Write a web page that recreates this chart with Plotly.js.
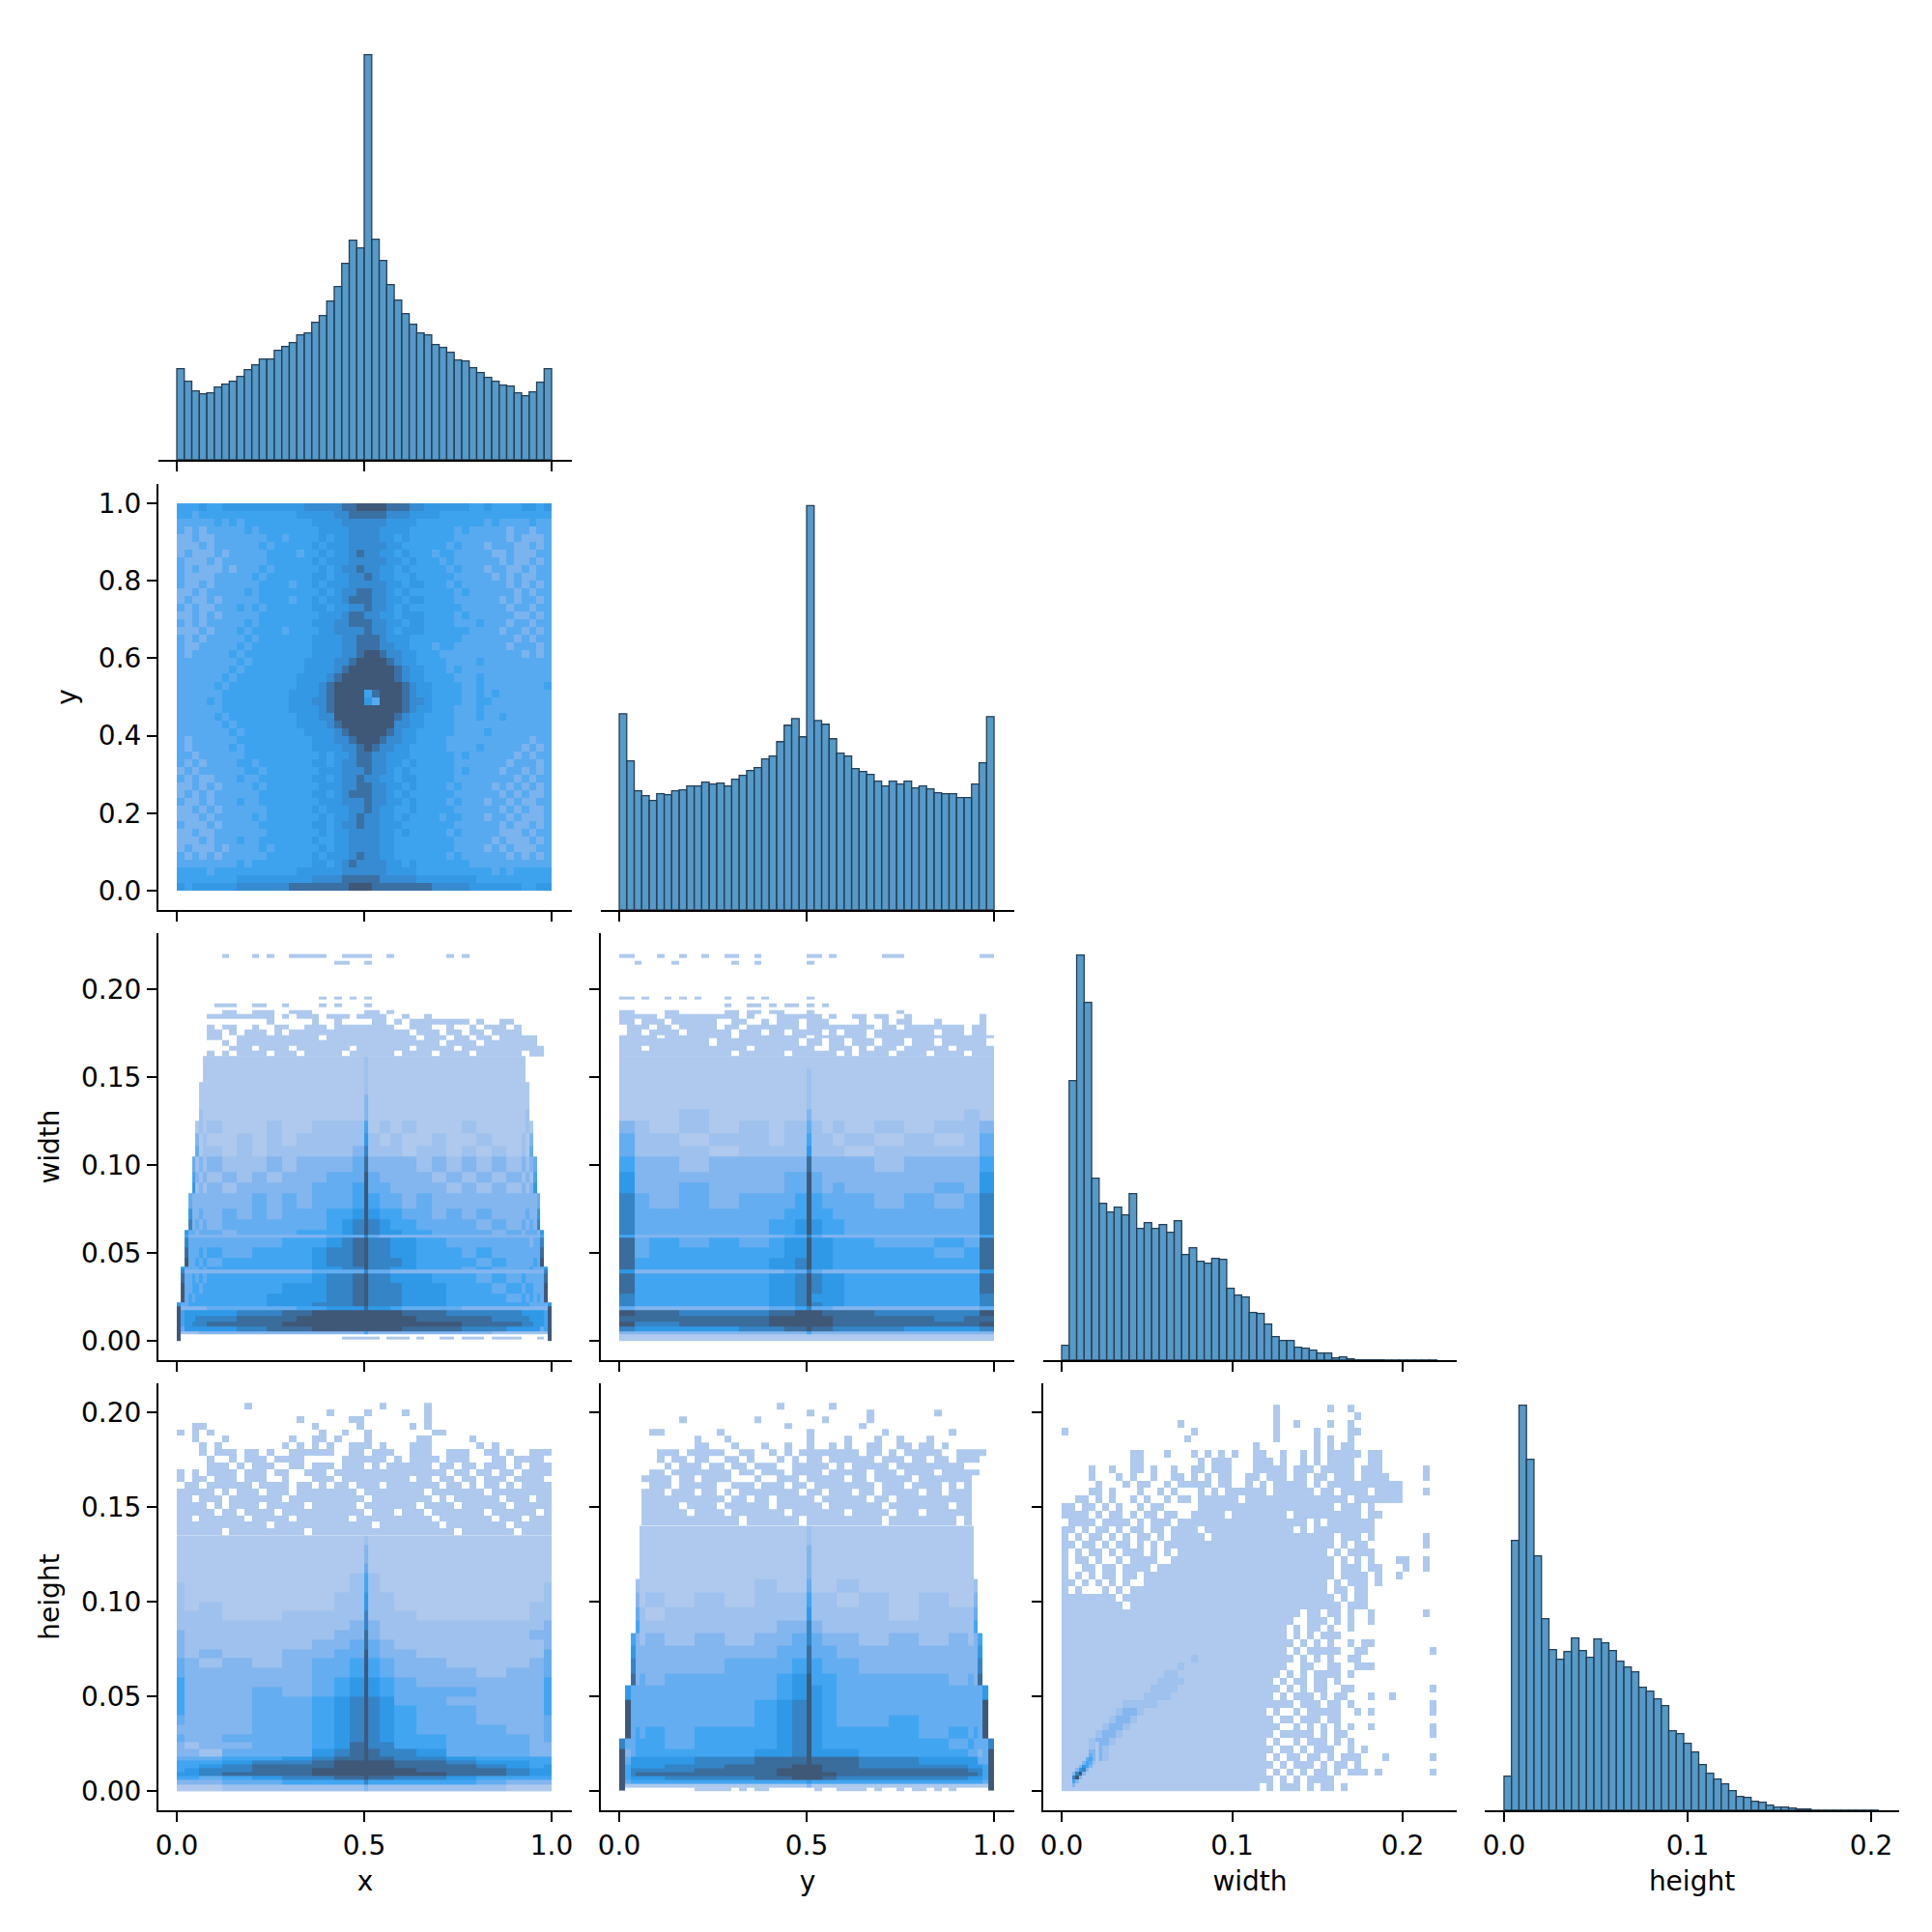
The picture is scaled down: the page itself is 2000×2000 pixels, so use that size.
<!DOCTYPE html>
<html><head><meta charset="utf-8">
<script src="https://cdn.plot.ly/plotly-3.0.1.min.js"></script>
<style>html,body{margin:0;padding:0;background:#fff}</style></head>
<body><div id="chart" style="width:2000px;height:2000px"></div>
<script>
const variables = ["x","y","width","height"];
const tickLabelsUnit = ["0.0","0.5","1.0"];
const tickValuesUnit = [0,0.5,1];
const tickLabelsSize = ["0.0","0.1","0.2"];
const tickValuesSize = [0,0.1,0.2];
const tickLabelsY = ["0.0","0.2","0.4","0.6","0.8","1.0"];
const tickValuesY = [0,0.2,0.4,0.6,0.8,1];
const tickLabelsRow = ["0.00","0.05","0.10","0.15","0.20"];
const tickValuesRow = [0,0.05,0.1,0.15,0.2];

const histX = [283,244,214,205,208,226,235,244,259,280,295,313,313,340,352,364,388,394,427,448,493,538,610,682,658,1258,685,619,544,496,454,421,394,388,358,349,334,310,307,286,271,256,244,232,229,208,199,211,241,283];
const histY = [611,464,371,356,341,362,359,371,374,386,386,398,392,395,386,407,419,434,443,470,479,524,575,596,539,1259,590,578,533,488,479,440,431,422,401,386,401,392,401,380,386,377,365,362,362,350,350,392,458,602];
const histWidth = [46,868,1258,1111,565,487,460,475,451,517,409,427,409,421,397,433,328,349,307,301,316,313,223,202,196,148,145,112,73,61,61,40,37,31,22,22,7,10,4,1,1,1,1,0.5,0.5,0.5,0.5,0.5,0.5,0.5];
const histHeight = [106,838,1258,1090,790,595,499,469,493,535,496,475,532,520,496,463,445,430,382,370,346,325,247,238,208,181,142,115,97,82,61,43,40,28,25,16,10,10,7,4,4,0.5,0.5,0.5,0.5,0.5,0.5,0.5,0.5,0.5];

// density levels, 0 = empty cell, rows listed from the top of the panel downward
const levelsXY = [
"5556556666 6666666777 7788999988 8776666665 5655556656",
"5545555555 5555556666 6778888877 7666655555 5555555555",
"4444454545 5555555566 6677777766 6655555555 5454444544",
"4343444445 4555555556 6667777666 6555555454 4444344344",
"3343344444 4455455556 5667777665 6555555444 4444343334",
"3334344444 4545555565 6667777766 5555554544 4344433434",
"3433343444 4455554556 5667877665 6555455444 4433433344",
"4333434444 4455555565 6667777766 5655545444 4443433434",
"4343334344 4545555556 5677877665 6555554544 4344334344",
"4333344444 5455555566 5667787665 5655555444 4434343344",
"4334344444 4555545565 6667777766 5665554544 4444343434",
"3343444445 4555555556 5677887765 6555555454 4444434344",
"3433434444 4555545565 6678887766 5665555444 4443434434",
"4343344454 5455555566 5667787765 6555555544 4444344344",
"3343434444 4555555556 6678877665 6665555454 4444433434",
"4343444445 4555555566 6778887766 5665555444 5444344344",
"3334344454 5555455556 6777787765 6665555554 4443443434",
"4343444445 4555555566 6677888766 6555555544 4444434344",
"4334444454 5555555566 6677888776 6555455444 4444344434",
"4344444545 5555555566 6677899877 6655544444 4444443434",
"4444444454 5555555666 6778999987 6655554444 5444444444",
"4444444545 5555555666 6789999998 7665554544 4444444444",
"4444445455 5555556666 7899999998 7665555444 5444444444",
"4444454555 5555556667 8999999999 8766555544 5444444445",
"4444445555 5555566667 8999958999 8766555544 5454444444",
"4444545555 5555566677 8999964999 8776555544 5544444444",
"4444445555 5555566667 8999999999 8766555444 5444444444",
"4444454555 5555556667 7999999998 7665555444 5445444444",
"4444445455 5555556666 7899999997 7665555444 4444444444",
"4444444545 5555555666 6789999987 6655555444 4544444444",
"4344444455 5555555566 6778999877 6655554444 4444444344",
"4344444545 5555555566 6677898776 6555554444 5444443434",
"4434444445 5555555556 5667887766 6555555454 4444434344",
"4343444455 4555555566 5677887766 5655555444 4444344434",
"3434444445 5455555556 6677787765 6555555454 4443443434",
"4343344454 4555555566 5677877665 6655555444 4444434344",
"3343434444 5455555556 6677887766 5655554544 4434343434",
"3434344444 4555555566 5678887765 6555555444 4443434334",
"4334344454 4555555556 6677787766 5655554544 4344343344",
"3343434444 4455555565 6667787665 5655555444 4443434334",
"3334344444 5455555556 5667877665 6555545544 4344343334",
"4333434444 4555555566 5677877666 5555555444 4443433434",
"3343344444 4455555556 5667777665 6555554544 4443334344",
"3334344454 4555555565 5667777665 5555555444 4434333434",
"3433343444 4545555556 5667777665 5555555444 4343433344",
"4343434444 4455555565 6667877665 5555554544 4444343434",
"4444444454 5555555566 5678777766 5655555554 4444444444",
"5555455555 5555556666 6677777766 6655555555 5545455555",
"5555555566 6666666677 7788888777 7766666666 5555555555",
"6566666677 7777788888 8889998888 8888777776 6666665566"];

const columnsXW = [0,.01,.02,.03,.04,.05,.06,.07,.08,.12,.16,.20,.24,.28,.32,.36,.40,.44,.47,.50,.51,.54,.57,.60,.64,.68,.72,.76,.80,.84,.88,.92,.93,.94,.95,.96,.97,.98,.99,1];
const rowsXW = [0,.0035,.0055,.008,.011,.014,.0175,.0195,.022,.027,.033,.0385,.0405,.042,.047,.053,.0585,.0605,.063,.069,.075,.084,.09,.096,.105,.111,.118,.125,.132,.14,.147,.155,.162];
const levelsXW = [
"00000001 111111111 11 2 111 11111111 10000000",
"00000001 111111111 11 2 111 11111111 10000000",
"00000011 111111111 11 2 111 11111111 11000000",
"00000011 111111111 11 3 111 11111111 11000000",
"00000021 111111111 11 3 111 11111111 12000000",
"00000121 211121122 22 5 121 21112111 12100000",
"00000312 112121222 22 6 212 11211211 21300000",
"00000412 212122222 23 7 222 12212121 21400000",
"00004232 322232333 34 8 333 32323232 32340000",
"00005323 232323334 44 9 433 33232323 23250000",
"00006232 323333344 45 9 443 33323232 32360000",
"00043333 333434344 45 9 544 34333333 33334000",
"00063343 343434445 56 9 655 44343433 34336000",
"00073434 344444445 67 9 765 54444343 43437000",
"00644344 434444555 67 9 766 55444434 34443600",
"00533333 333333334 44 7 433 33333333 33333500",
"00744444 444445556 78 9 776 65544444 44344700",
"00844454 544555567 78 9 776 65554544 44444800",
"00944545 455555567 78 9 777 65555454 44454900",
"06444454 555555566 77 9 776 65554544 44544460",
"07333333 333333344 44 7 443 33333333 33333370",
"08445454 555555567 78 9 776 66555454 54444480",
"09445545 555556667 78 9 777 66655545 45544490",
"09454555 555566667 78 9 777 66655554 54545490",
"64455555 555566677 78 9 777 66655555 55444446",
"93333333 444444556 66 8 665 44443333 33333339",
"95666666 667778899 99 9 999 88877777 66666659",
"95666777 778888999 99 9 999 98888877 77666659",
"95667777 888889999 99 9 999 99998888 77766659",
"94666666 667788899 99 9 999 88887776 66666459",
"92222233 333333333 33 5 333 33333322 22222229",
"90000000 000000000 00 0 000 00000000 00000009"];
const sparseRowsXW = [.0005,.0025,.162,.165,.168,.171,.174,.177,.180,.183,.186,.188,.190,.192,.194,.196,.214,.216,.218,.220];
const sparseXW = [
"0000001000 1010011111 0011110010 0000001010 0000000000",
"",
"0000000000 0000000000 0110010000",
"",
"0000000000 0000000001 0101010000",
"",
"0000011100 1100100001 0100010000",
"",
"0000001100 1110011100 0000011010",
"0000111111 1110101110 1110111100 1001000000",
"0000000000 0010000010 0100001101 0111111110 1001100000",
"0000101100 1001100111 0111111110 0111001001 0111010000",
"0000110101 1101011111 1111111111 1011101101 1011110000",
"0000110011 1111111110 1111111111 1101110110 1101111100",
"0000001011 1111111111 1111111111 1111101111 0111111100",
"0000000111 0111101111 1110111111 1011111011 1111111110",
"0000101011 1101110111 1101111110 1111011110 1111110110",
"",
"0000000000 0000000000 0011111011 1010011011 1011110010"];

const columnsYW = [0,.04,.08,.16,.24,.32,.40,.44,.47,.50,.513,.54,.57,.60,.68,.76,.84,.92,.96,1];
const rowsYW = [0,.0035,.0055,.008,.011,.014,.0175,.0195,.022,.027,.033,.0385,.0405,.047,.053,.0585,.0605,.069,.075,.084,.09,.096,.105,.111,.118,.125,.132,.14,.147,.155,.162];
const levelsYW = [
"111111111 1 111111111",
"111111111 2 111111111",
"111111111 2 111111111",
"111111111 2 111111111",
"111211111 3 111111121",
"321212122 4 212121223",
"422122122 5 221212124",
"422212222 6 222122224",
"533233333 8 333323335",
"633333344 9 433333336",
"633433344 9 434333436",
"743434445 9 544434347",
"744444455 9 554444447",
"744444556 9 655444447",
"533333344 7 433333335",
"845454566 9 665544548",
"845555566 9 665555458",
"855555667 9 665555558",
"633333344 7 433333336",
"855555667 9 766555558",
"855555667 9 766555558",
"755555667 9 666555557",
"755555667 9 766555557",
"433333445 7 443333334",
"988777889 9 988877779",
"888888999 9 998888788",
"977888999 9 998888889",
"766667788 9 887776667",
"333333333 5 333333333",
"111111111 1 111111111"];
const sparseRowsYW = [.162,.165,.168,.172,.174,.177,.18,.183,.186,.188,.19,.192,.194,.196,.214,.216,.218,.22];
const sparseYW = [
"1100010010 0100110010 0000011010 0000011100 0000000011",
"",
"0010000100 0000010010 0000010000",
"",
"1101001010 1000100101 0000010000",
"",
"0000000000 0000100110 1011010100",
"",
"1100001100 0000110110 1100010000 0000000100",
"1111101111 1111110100 0111111010 0110110010 0000000010",
"1101110111 1110011001 0111011100 0010010110 0010000010",
"0111011011 1110110111 1111011111 1111011011 1111110110",
"0110111101 1111101110 1101111010 1110111111 1101110110",
"1111101111 1111101111 1111101111 1110111111 1111111111",
"1111111111 1101111111 1111011011 0111011101 1101111110",
"1110111111 1111111011 1111110011 1010111011 1111011111",
"1111111111 1111101111 1101111110 1011110111 1011110111"];

const columnsXH = [0,.02,.06,.12,.20,.28,.36,.42,.46,.50,.51,.54,.58,.64,.72,.80,.88,.94,.98,1];
const rowsXH = [0,.0035,.006,.008,.010,.012,.014,.016,.018,.022,.026,.03,.035,.04,.045,.05,.055,.06,.065,.07,.075,.08,.085,.09,.095,.10,.105,.11,.115,.12,.125,.13,.135];
const levelsXH = [
"111111111 2 111111111",
"111111111 3 111111111",
"111111111 3 111111111",
"111111111 4 111111111",
"111111112 5 211111111",
"211111112 5 211111112",
"211111122 6 221111112",
"212111122 6 221111122",
"222112222 7 222111122",
"222222223 7 322222223",
"322222233 8 322222233",
"322222334 8 432222223",
"323223344 9 433222224",
"432323445 9 543322234",
"433333445 9 543332334",
"533333456 9 654333335",
"533343456 9 654443335",
"533344567 9 764433335",
"533344567 9 765443335",
"433344567 9 765443334",
"333344567 9 765444334",
"433444567 9 765544434",
"323344568 9 775544433",
"332444678 9 877644433",
"444556788 9 887765555",
"555677899 9 998876655",
"556788899 9 998887656",
"567788999 9 999888766",
"667888999 9 999988766",
"554567788 9 887765555",
"333445555 7 555554333",
"111222222 3 222222111"];
const sparseXH = [
"0000000001 0000000000 0000000100 0001000000",
"0000000000 0000000000 1000010000 1001000000",
"0000000000 0000001000 0001100000 0001000000",
"0011000000 0000000010 0000100000 0101000000",
"1010100000 0000000001 0010010000 0000110000",
"0010001000 0000010011 0100010000 0011000001",
"0001010000 0000101010 1001110100 0111000000 1010000000",
"0001011101 1010011111 1001101110 0111001110 0110100111",
"0000100101 1101111000 0011111101 0111101110 0011011110",
"0000111010 1110011011 1011101011 1111011011 0111010111",
"1010111101 1101100111 0111111111 1111110110 1101101111",
"1011011101 1100100011 1011111111 1011011011 0111011110",
"0110111111 0111101101 0110111011 1111101101 0110101111",
"1111101011 1011101111 1111011111 1110111111 1011111111",
"1101110111 1111011111 1111101111 1111010111 1110111011",
"1111010111 1011111011 1111011111 1101111011 1111011111",
"1111101101 1110111111 1111101110 1110111111 1011111101",
"1101111110 1111101111 1110111111 1111011111 1101110111",
"1111111111 1101111111 1111110111 1111101111 1111011111",
"1111110111 1111111011 1111111111 1111111011 1111101111"];

const columnsYH = [0,.015,.03,.043,.055,.07,.12,.2,.28,.36,.42,.46,.50,.513,.54,.58,.64,.72,.80,.88,.93,.945,.957,.97,.985,1];
const rowsYH = [0,.002,.004,.006,.008,.01,.012,.014,.018,.022,.028,.034,.04,.048,.056,.062,.07,.0765,.0835,.09,.097,.105,.112,.12,.13,.14];
const levelsYH = [
"00001 1111111 2 1111111 10000",
"00001 1111111 3 1111111 10000",
"00001 1111111 3 1111111 10000",
"00021 1111211 4 1121111 12000",
"00031 2121222 5 2212121 13000",
"00042 1222222 6 2222122 24000",
"00052 2222233 7 3222222 25000",
"00532 3232334 7 4332323 23500",
"00633 3333344 8 4433333 33600",
"00733 3334445 8 5443333 33700",
"00834 3444456 9 5544443 43800",
"06444 4444456 9 6544444 44460",
"09444 4444567 9 6544444 44490",
"09444 4444567 9 6544544 44490",
"09454 5455567 9 6555545 45490",
"74455 5455567 9 6555554 54447",
"93455 5555667 9 6665555 44349",
"94666 6677888 9 8887766 66449",
"95666 6778889 9 9887777 66659",
"95777 7788899 9 9888888 77759",
"95788 8888899 9 9988888 88759",
"95666 6777889 9 9877777 66659",
"94555 5555555 6 5555555 55549",
"91111 1111111 3 1111111 11119",
"90000 0000000 0 0000000 00009"];
const sparseRowsYH = [0,.002,.14,.1455,.149,.1525,.156,.1595,.163,.1665,.17,.1735,.177,.1805,.184,.1875,.191,.1945,.198,.2015,.205];
const sparseYH = [
"0000000000 0000000000 0100000010",
"0000000000 0000000000 0000010000 0001000000 0010000000",
"0000000010 0000000010 0000000100 0001000000",
"0000000000 0000000000 0010000000 0010000000",
"0000110000 0001000000 0000010000 0000010000 0000100000",
"0000000000 1000100000 0000010000 1000100100 0100000000",
"0000000000 1100010001 0010010010 1001100110 1101000000",
"0000011101 1111001100 1010111111 1101101011 1110011110",
"0000010110 1100110100 0101011011 1111011101 1011011100",
"0000001011 1011011011 1001111101 0111110111 1111110000",
"0000110111 1111101101 1101111011 1110111011 1101111100",
"0001111011 0111100010 0111011111 0110111110 1111111000",
"0000111011 1110011101 1101101111 1111011101 1110101000",
"0001110111 0110101111 1111011011 1011011111 0110111000",
"0001111111 1111011011 0111110111 1110110111 1111111000",
"0001111101 1110111111 0111111011 1111101111 1111011000",
"0001111110 1111011111 1101111111 0111110111 0111111000",
"0001111111 1111110111 1111011111 1111101111 1111101000",
"",
"0000000000 1111101011 0000001001 1110100101 1010100000"];

const levelsWH = [
"00000000000 00000000000 00000000010 00000010010",
"00000000000 00000000000 00000000010 00000000001",
"00000000000 00000010000 00000000010 01000010010",
"10000000000 00000000100 00000000010 00001000011",
"00000000000 00000001000 00000000010 00001010010",
"00000000000 00000000000 00000010000 00001010110",
"00000000001 10001000101 01010011001 00101011111 01100000000",
"00000000001 10000000010 11100011101 00101011110 01100000000",
"00001001001 10100100110 11100011111 01110111110 11100000010",
"00001000101 00100110101 01100110111 01101101110 11110000010",
"00000100010 11001011111 01100101011 11101011111 11111100000",
"00001101000 10010100010 10111111011 11110110111 10111100010",
"00110101001 01001011011 11110111111 11111111101 11111100000",
"11011010100 10110000011 11111111111 11111110111 01000000000",
"11110101101 01101100111 11011111111 01111111111 01100000000",
"01111011110 10111011111 11111111111 11101011111 11000000000",
"11010110101 10110111101 11111111111 10101111111 11000000000",
"10101101010 11010111110 11111111111 11111110111 01000000010",
"11011010110 10101111111 11111111111 11111110101 10000000010",
"10101101011 10101011111 11111111111 11111101011 11000000000",
"10110100101 11100111111 11111111111 11111110101 01000110010",
"10011011011 11011111111 11111111111 11111110111 01100010010",
"10101011011 01111111111 11111111111 11111110111 10100100000",
"11010101010 01111111111 11111111111 11111101011 10100000000",
"10100010101 11111111111 11111111111 11111101101 10000000000",
"11111111011 11111111111 11111111111 11111110101 10000000000",
"11111111101 11111111111 11111111111 11111111011 10000000000",
"11111111111 11111111111 11111111111 11011011010 01000000010",
"11111111111 11111111111 11111111111 10011101010 01000000000",
"11111111111 11111111111 11111111111 01011010010 00000000000",
"11111111111 11111111111 11111111111 01010111000 00000000000",
"11111111111 11111111111 11111111111 10101010010 11000000000",
"11111111111 11111111111 11111111111 01011111001 10000000001",
"11111111111 11111111211 11111111111 10101010011 00000000000",
"11111111111 11111121111 11111111111 00110011001 11000000000",
"11111111111 11112211111 11111111110 10101111010 00000000000",
"11111111111 11122221111 11111111101 01101101000 00000000000",
"11111111111 11222211111 11111111110 10101100110 00000000001",
"11111111111 12222111111 11111111101 01110101100 01001000000",
"11111111122 22211111111 11111111111 10111011010 00000000001",
"11111111233 21111111111 11111111010 01011111001 01000000001",
"11111112332 11111111111 11111111101 10111011000 00000000000",
"11111123321 11111111111 11111111110 01010101010 01000000001",
"11111233211 11111111111 11111111101 11110101100 00000000001",
"11112332111 11111111111 11111111010 01011101010 00000000000",
"11123321111 11111111111 11111111101 10101110010 10000000000",
"11122321111 11111111111 11111111010 11011010111 00010000001",
"11122111111 11111111111 11111111101 01110101101 00000000000",
"11111111111 11111111111 11111111010 10101101011 10100000001",
"11111111111 11111111111 11111111101 01011110000 00000000000",
"11111111111 11111111111 11111110101 11010110100 00000000000"];
const coreWH = [
"1111111221",
"1111111221",
"1111111331",
"1111111431",
"1111114531",
"1111135421",
"1111365311",
"1113673111",
"1137931111",
"1179311111",
"1153111111",
"1131111111"];

function parseLevels(rows, ncols){
  return rows.map(s=>{
    const chars=[...s.replace(/ /g,'')];
    const out=[];
    for(let i=0;i<ncols;i++){const c=chars[i]; out.push(!c||c==='0'?null:+c);}
    return out;
  }).reverse();
}
const palette=["#aec9ed","#9ec1ee","#83b5ef","#64adf0","#42a5f2","#2f99e8","#3484c6","#3a6c9c","#3f5877"];
const paletteXY=["#aec9ed","#9ec1ee","#7bb3ef","#58aaf0","#3ea3ef","#3598e4","#378bd2","#3b70a4","#3f5877"];
const colorscale=palette.map((c,i)=>[i/8,c]);
const colorscaleXY=paletteXY.map((c,i)=>[i/8,c]);
const frameX=[[164,592],[622,1050],[1080,1508],[1537,1966]];
const frameY=[[34,476],[501,942],[966,1408],[1432,1874]];
const rangeX=[[-0.049,1.054],[-0.049,1.054],[-0.01076,0.2317],[-0.0105,0.2153]];
const rangeY=[[0,1326],[-0.05,1.05],[-0.011,0.2319],[-0.0102,0.2153]];
const histRange=[0,1326];
const tickFont={family:"DejaVu Sans",size:28,color:"#000"};
const layout={width:2000,height:2000,margin:{l:0,r:0,t:0,b:0},paper_bgcolor:"#fff",plot_bgcolor:"rgba(0,0,0,0)",showlegend:false,bargap:0,barmode:"overlay"};
const traces=[];
let id=0;
const panelIds={};
for(let r=0;r<4;r++)for(let c=0;c<=r;c++){
  id++;
  const sx=id===1?'':id, xa='xaxis'+sx, ya='yaxis'+sx;
  panelIds[r+'_'+c]={x:'x'+sx,y:'y'+sx};
  const bottom=r===3;
  layout[xa]={domain:[frameX[c][0]/2000,frameX[c][1]/2000],range:rangeX[c],anchor:'y'+sx,showgrid:false,zeroline:false,
    showline:true,linecolor:"#000",linewidth:2,ticks:"outside",ticklen:10,tickwidth:2,tickcolor:"#000",
    tickmode:"array",tickvals:c<2?tickValuesUnit:tickValuesSize,ticktext:bottom?(c<2?tickLabelsUnit:tickLabelsSize):["","",""],
    tickfont:tickFont,showticklabels:bottom,title:bottom?{text:variables[c],font:tickFont,standoff:12}:undefined};
  const diag=r===c;
  const first=c===0;
  layout[ya]={domain:[1-frameY[r][1]/2000,1-frameY[r][0]/2000],range:diag?histRange:rangeY[r],anchor:'x'+sx,showgrid:false,zeroline:false,visible:!diag,
    showline:true,linecolor:"#000",linewidth:2,ticks:"outside",ticklen:10,tickwidth:2,tickcolor:"#000",
    tickmode:"array",tickvals:r===1?tickValuesY:tickValuesRow,ticktext:r===1?tickLabelsY:tickLabelsRow,
    tickfont:tickFont,showticklabels:first,title:first&&!diag?{text:variables[r],font:tickFont,standoff:14}:undefined};
}
function bars(r,values,x0,dx){
  const p=panelIds[r+'_'+r];
  traces.push({type:'bar',x0:x0,dx:dx,y:values,width:dx,xaxis:p.x,yaxis:p.y,
    marker:{color:"rgba(31,119,180,0.75)",line:{color:"#263f55",width:1.3}},hoverinfo:'skip'});
}
bars(0,histX,0.01,0.02);
bars(1,histY,0.01,0.02);
bars(2,histWidth,0.0022,0.0044);
bars(3,histHeight,0.00204,0.00408);
function cells(r,c,spec){
  const p=panelIds[r+'_'+c];
  traces.push(Object.assign({type:'heatmap',xaxis:p.x,yaxis:p.y,colorscale:colorscale,zmin:1,zmax:9,showscale:false,hoverinfo:'skip',xgap:0,ygap:0},spec));
}
cells(1,0,{z:parseLevels(levelsXY,50),x0:0.01,dx:0.02,y0:0.01,dy:0.02,colorscale:colorscaleXY});
cells(2,0,{z:parseLevels(levelsXW,columnsXW.length-1),x:columnsXW,y:rowsXW});
cells(2,0,{z:parseLevels(sparseXW,50),x0:0.01,dx:0.02,y:sparseRowsXW});
cells(2,1,{z:parseLevels(levelsYW,columnsYW.length-1),x:columnsYW,y:rowsYW});
cells(2,1,{z:parseLevels(sparseYW,50),x0:0.01,dx:0.02,y:sparseRowsYW});
cells(3,0,{z:parseLevels(levelsXH,columnsXH.length-1),x:columnsXH,y:rowsXH});
cells(3,0,{z:parseLevels(sparseXH,50),x0:0.01,dx:0.02,y0:0.13675,dy:0.0035});
cells(3,1,{z:parseLevels(levelsYH,columnsYH.length-1),x:columnsYH,y:rowsYH});
cells(3,1,{z:parseLevels(sparseYH,50),x0:0.01,dx:0.02,y:sparseRowsYH});
cells(3,2,{z:parseLevels(levelsWH,55),x0:0.002,dx:0.004,y0:0.002,dy:0.004});
cells(3,2,{z:parseLevels(coreWH,10),x0:0.003,dx:0.002,y0:0.003,dy:0.002});
Plotly.newPlot('chart',traces,layout,{displayModeBar:false,staticPlot:true});
</script></body></html>
